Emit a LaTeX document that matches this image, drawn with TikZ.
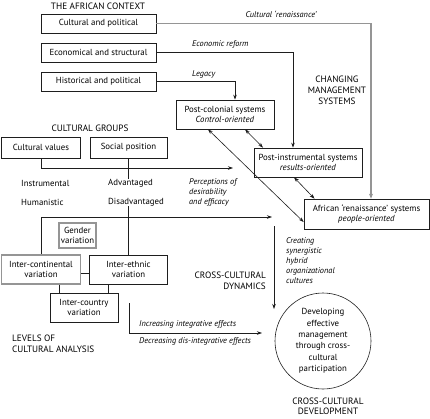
\documentclass[tikz,border=0pt]{standalone}
\usepackage{fontspec}
\setmainfont{PT Sans}
\usetikzlibrary{arrows.meta,positioning,calc}
\definecolor{ink}{HTML}{1E1E1E}
\definecolor{greyline}{HTML}{959595}
\tikzset{
  box/.style={
    draw=ink,fill=white,line width=.7pt,inner sep=1pt,
    align=center,font=\fontsize{8.8}{10.2}\selectfont
  },
  greybox/.style={box,draw=greyline,line width=1.1pt},
  plain/.style={font=\fontsize{8.8}{10}\selectfont,inner sep=0pt},
  heading/.style={font=\fontsize{9.2}{11}\selectfont,align=center,inner sep=0pt},
  label/.style={font=\fontsize{8.3}{10}\selectfont\itshape,inner sep=0pt},
  link/.style={draw=ink,line width=.6pt},
  arrow/.style={-{Stealth[length=5pt,width=3.5pt]},draw=ink,line width=.6pt},
  twoway/.style={{Stealth[length=5pt,width=3.5pt]}-{Stealth[length=5pt,width=3.5pt]},draw=ink,line width=.6pt},
  greyarrow/.style={-{Stealth[length=5pt,width=4pt]},draw=greyline,line width=1.1pt}
}

\begin{document}
\begin{tikzpicture}[x=1pt,y=-1pt]
\useasboundingbox (0,0) rectangle (430,418);

% the African context
\node[heading] (ctx) at (98,6) {THE AFRICAN CONTEXT};
\node[box,minimum width=115,minimum height=19] (cp) at (98.5,23.5) {Cultural and political};
\node[box,minimum width=115,minimum height=19] (es) at (98.5,52.5) {Economical and structural};
\node[box,minimum width=115,minimum height=19] (hp) at (98.5,81.5) {Historical and political};

% changing management systems
\node[heading] (cms) at (337,90) {CHANGING\\MANAGEMENT\\SYSTEMS};
\node[box,minimum width=98,minimum height=29] (pc) at (225,114.5) {Post-colonial systems\\\textit{Control-oriented}};
\node[box,minimum width=108,minimum height=29] (pi) at (308,162.5) {Post-instrumental systems\\\textit{results-oriented}};
\node[box,minimum width=125,minimum height=30] (ar) at (366.5,214) {African ‘renaissance’ systems\\\textit{people-oriented}};

\draw[greyarrow] (cp.east) -| ([xshift=4.5pt]ar.north);
\draw[arrow] (es.east) -| ([xshift=-15pt]pi.north);
\draw[arrow] (hp.east) -| ([xshift=10pt]pc.north);
\node[label] at (281,14) {Cultural ‘renaissance’};
\node[label,anchor=west] at (192,44) {Economic reform};
\node[label,anchor=west] at (192,74) {Legacy};

\draw[twoway] ([xshift=20pt]pc.south) -- ([xshift=-45pt]pi.north);
\draw[twoway] ([xshift=-14pt]pi.south) -- ([xshift=-52pt]ar.north);
\draw[twoway] ([xshift=-17pt]pc.south) -- ([yshift=-8pt]ar.west);

% cultural groups
\node[heading] (grp) at (90,128) {CULTURAL GROUPS};
\node[box,minimum width=79,minimum height=21] (cv) at (41,147.5) {Cultural values};
\node[box,minimum width=77,minimum height=21] (sp) at (128.5,147.5) {Social position};
\node[plain,anchor=west] (ins) at (21,183) {Instrumental};
\node[plain,anchor=west] (hum) at (21,202) {Humanistic};
\node[plain,anchor=west] (adv) at (108,183) {Advantaged};
\node[plain,anchor=west] (dis) at (108,202) {Disadvantaged};
\node[label,align=left,anchor=north west] (pde) at (189,178) {Perceptions of\\desirability\\and efficacy};

\coordinate (perc) at (233,168);
\coordinate (effc) at (272,217);
\draw[arrow] (cv.south |- perc) -- (perc);
\draw[arrow] (cv.south |- effc) -- (effc);

% levels of cultural analysis
\node[greybox,minimum width=37,minimum height=25] (gv) at (77.5,235.5) {Gender\\variation};
\node[greybox,minimum width=79,minimum height=29] (ic) at (41,269.5) {Inter-continental\\variation};
\node[box,minimum width=78,minimum height=29] (ie) at (128.5,269.5) {Inter-ethnic\\variation};
\node[box,minimum width=68,minimum height=29] (ico) at (84,307.5) {Inter-country\\variation};
\node[heading,align=left,anchor=west] (lev) at (12,344) {LEVELS OF\\CULTURAL ANALYSIS};

\draw[link] (cv.south) -- (cv.south |- perc);
\draw[link] (cv.south |- effc) -- (ic.north);
\draw[link] (sp.south) -- (sp.south |- adv.north);
\draw[link] (sp.south |- dis.south) -- (ie.north);
\draw[link] ([yshift=-3.5pt]ic.east) -- ([yshift=-3.5pt]ie.west);
\draw[link] ([xshift=18pt]ic.south) -- ([xshift=18pt]ic.south |- ico.north);
\draw[link] ([xshift=-20.5pt]ie.south) -- ([xshift=-20.5pt]ie.south |- ico.north);

% cross-cultural dynamics and development
\node[heading,align=right,anchor=north east] (dyn) at (266,272) {CROSS-CULTURAL\\DYNAMICS};
\node[label,align=left,anchor=north west] (syn) at (286,237) {Creating\\synergistic\\hybrid\\organizational\\cultures};
\coordinate (synA) at (274,226);
\coordinate (synB) at (274,309);
\draw[arrow] (synA) -- (synB);

\coordinate (intA) at (129,303);
\coordinate (intB) at (262,333);
\draw[arrow] (intA) |- (intB);
\node[label,anchor=west] (inc) at (139,324) {Increasing integrative effects};
\node[label,anchor=west] (dec) at (139,341) {Decreasing dis-integrative effects};

\node[circle,draw=ink,line width=.6pt,minimum size=96pt,inner sep=0pt,align=center,
  font=\fontsize{8.8}{11.3}\selectfont] (dev) at (323,341)
  {Developing\\effective\\management\\through cross-\\cultural\\participation};
\node[heading,font=\fontsize{9.2}{10.5}\selectfont] (ccd) at (328,406.5) {CROSS-CULTURAL\\DEVELOPMENT};
\end{tikzpicture}
\end{document}
